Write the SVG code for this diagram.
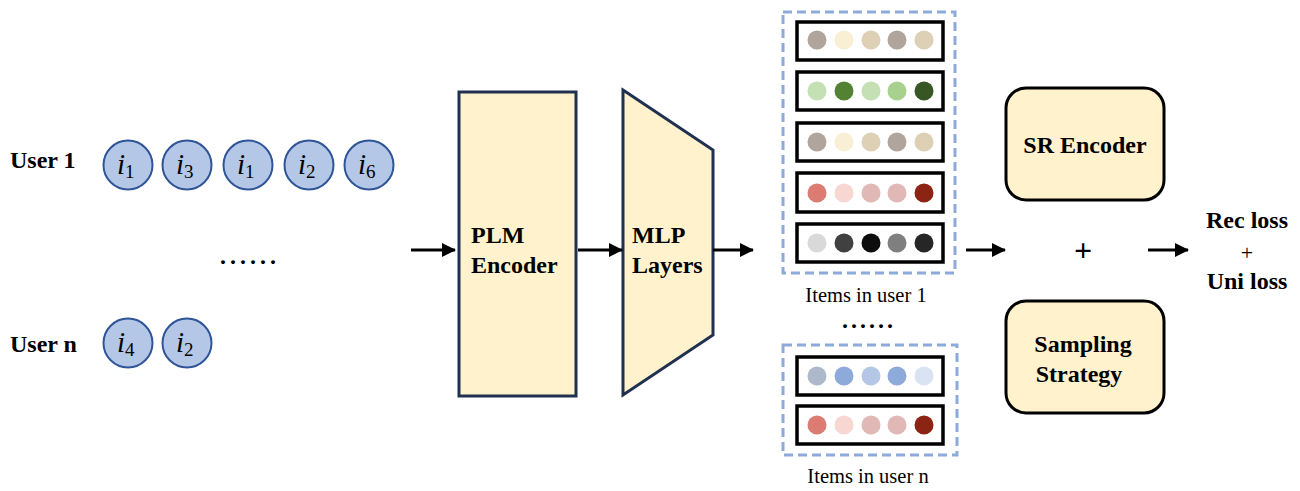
<svg xmlns="http://www.w3.org/2000/svg" width="1300" height="491" viewBox="0 0 1300 491" font-family="'Liberation Serif', 'Times New Roman', 'DejaVu Serif', serif">
<defs>
<style>
.lbl{font-weight:bold;font-size:24px;fill:#000}
.cap{font-size:20.5px;fill:#000}
.item circle{fill:#b4c7e7;stroke:#2f5597;stroke-width:2}
.item text{font-style:italic;font-size:29px;fill:#000}
.sub{font-style:normal;font-size:19px}
.yel{fill:#fff2cc;stroke:#1f3050;stroke-width:3}
.rbox{fill:#fff2cc;stroke:#000;stroke-width:3}
.dash{fill:none;stroke:#8eaadb;stroke-width:3;stroke-dasharray:9 5}
.row{fill:#fff;stroke:#000;stroke-width:3.5}
.conn line{stroke:#000;stroke-width:3;marker-end:url(#ah)}
.bigplus{font-weight:bold;font-size:32px;fill:#000}
.smallplus{font-size:22px;fill:#000}
</style>
<marker id="ah" markerUnits="userSpaceOnUse" markerWidth="14" markerHeight="14" refX="13" refY="7" orient="auto">
<path d="M0,0 L14,7 L0,14 Z" fill="#000"/>
</marker>
</defs>
<rect width="1300" height="491" fill="#fff"/>

<g id="user1">
<text class="lbl" x="10" y="168">User 1</text>
<g class="item"><circle cx="128" cy="165" r="24.5"/><text x="117" y="174">i<tspan class="sub" dy="4">1</tspan></text></g>
<g class="item"><circle cx="187" cy="165" r="24.5"/><text x="176" y="174">i<tspan class="sub" dy="4">3</tspan></text></g>
<g class="item"><circle cx="248" cy="165" r="24.5"/><text x="237" y="174">i<tspan class="sub" dy="4">1</tspan></text></g>
<g class="item"><circle cx="309" cy="165" r="24.5"/><text x="298" y="174">i<tspan class="sub" dy="4">2</tspan></text></g>
<g class="item"><circle cx="369" cy="165" r="24.5"/><text x="358" y="174">i<tspan class="sub" dy="4">6</tspan></text></g>
</g>

<g id="ellipsis-users">
<text class="lbl" x="220" y="264" letter-spacing="4">......</text>
</g>

<g id="usern">
<text class="lbl" x="10" y="352">User n</text>
<g class="item"><circle cx="128" cy="343" r="24.5"/><text x="117" y="352">i<tspan class="sub" dy="4">4</tspan></text></g>
<g class="item"><circle cx="187" cy="343" r="24.5"/><text x="176" y="352">i<tspan class="sub" dy="4">2</tspan></text></g>
</g>

<g id="plm">
<rect class="yel" x="459" y="92" width="117" height="304"/>
<text class="lbl" x="471" y="243">PLM</text>
<text class="lbl" x="471" y="273">Encoder</text>
</g>

<g id="mlp">
<polygon class="yel" points="623,90 713,150 713,335 623,395"/>
<text class="lbl" x="632" y="243">MLP</text>
<text class="lbl" x="632" y="273">Layers</text>
</g>

<g id="items-user1">
<rect class="dash" x="783" y="12" width="172" height="261"/>
<rect class="row" x="797" y="22" width="146" height="38"/>
<circle cx="817" cy="40" r="9.5" fill="#b0a59c"/><circle cx="844" cy="40" r="9.5" fill="#f8efd4"/><circle cx="871" cy="40" r="9.5" fill="#ddd0b5"/><circle cx="897" cy="40" r="9.5" fill="#b0a59c"/><circle cx="924" cy="40" r="9.5" fill="#ddd0b5"/>
<rect class="row" x="797" y="72" width="146" height="38"/>
<circle cx="817" cy="91" r="9.5" fill="#c5e0b4"/><circle cx="844" cy="91" r="9.5" fill="#548235"/><circle cx="871" cy="91" r="9.5" fill="#c5e0b4"/><circle cx="897" cy="91" r="9.5" fill="#a9d18e"/><circle cx="924" cy="91" r="9.5" fill="#375623"/>
<rect class="row" x="797" y="123" width="146" height="38"/>
<circle cx="817" cy="142" r="9.5" fill="#b0a59c"/><circle cx="844" cy="142" r="9.5" fill="#f8efd4"/><circle cx="871" cy="142" r="9.5" fill="#ddd0b5"/><circle cx="897" cy="142" r="9.5" fill="#b0a59c"/><circle cx="924" cy="142" r="9.5" fill="#ddd0b5"/>
<rect class="row" x="797" y="173" width="146" height="39"/>
<circle cx="817" cy="193" r="9.5" fill="#db7b72"/><circle cx="844" cy="193" r="9.5" fill="#f8d7d3"/><circle cx="871" cy="193" r="9.5" fill="#e0b8b6"/><circle cx="897" cy="193" r="9.5" fill="#e0b8b6"/><circle cx="924" cy="193" r="9.5" fill="#8b2412"/>
<rect class="row" x="797" y="224" width="146" height="38"/>
<circle cx="817" cy="243" r="9.5" fill="#d9d9d9"/><circle cx="844" cy="243" r="9.5" fill="#404040"/><circle cx="871" cy="243" r="9.5" fill="#0d0d0d"/><circle cx="897" cy="243" r="9.5" fill="#7f7f7f"/><circle cx="924" cy="243" r="9.5" fill="#262626"/>
<text class="cap" x="866" y="302" text-anchor="middle">Items in user 1</text>
</g>

<g id="ellipsis-items">
<text class="lbl" x="842" y="328" letter-spacing="3">......</text>
</g>

<g id="items-usern">
<rect class="dash" x="783" y="345" width="174" height="110"/>
<rect class="row" x="797" y="357" width="146" height="38"/>
<circle cx="817" cy="376" r="9.5" fill="#adb9ca"/><circle cx="844" cy="376" r="9.5" fill="#8eaadb"/><circle cx="871" cy="376" r="9.5" fill="#b4c7e7"/><circle cx="897" cy="376" r="9.5" fill="#8eaadb"/><circle cx="924" cy="376" r="9.5" fill="#dae3f3"/>
<rect class="row" x="797" y="406" width="146" height="38"/>
<circle cx="817" cy="425" r="9.5" fill="#db7b72"/><circle cx="844" cy="425" r="9.5" fill="#f8d7d3"/><circle cx="871" cy="425" r="9.5" fill="#e0b8b6"/><circle cx="897" cy="425" r="9.5" fill="#e0b8b6"/><circle cx="924" cy="425" r="9.5" fill="#8b2412"/>
<text class="cap" x="868" y="483" text-anchor="middle">Items in user n</text>
</g>

<g id="sr-encoder">
<rect class="rbox" x="1006" y="88" width="158" height="112" rx="20"/>
<text class="lbl" x="1085" y="153" text-anchor="middle">SR Encoder</text>
</g>

<g id="sampling">
<rect class="rbox" x="1006" y="301" width="158" height="112" rx="20"/>
<text class="lbl" x="1083" y="352" text-anchor="middle">Sampling</text>
<text class="lbl" x="1079" y="382" text-anchor="middle">Strategy</text>
</g>

<g id="plus">
<text class="bigplus" x="1083" y="261" text-anchor="middle">+</text>
</g>

<g id="loss">
<text class="lbl" x="1247" y="228" text-anchor="middle">Rec loss</text>
<text class="smallplus" x="1247" y="260" text-anchor="middle">+</text>
<text class="lbl" x="1247" y="289" text-anchor="middle">Uni loss</text>
</g>

<g id="connectors" class="conn">
<line x1="411" y1="250" x2="455" y2="250"/>
<line x1="578" y1="250" x2="622" y2="250"/>
<line x1="713" y1="250" x2="753" y2="250"/>
<line x1="966" y1="250" x2="1005" y2="250"/>
<line x1="1148" y1="250" x2="1188" y2="250"/>
</g>
</svg>
